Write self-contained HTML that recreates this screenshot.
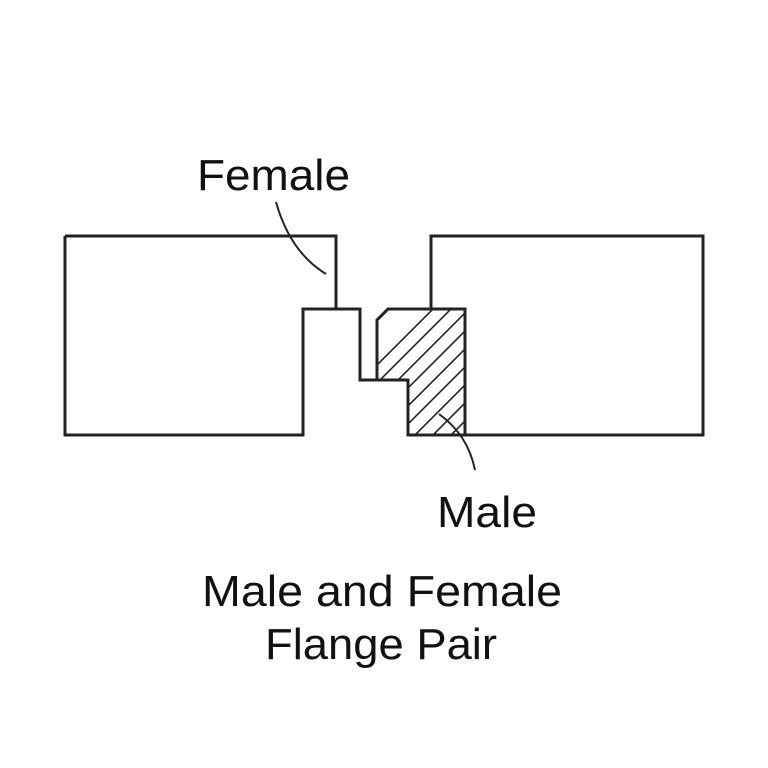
<!DOCTYPE html>
<html><head><meta charset="utf-8"><style>
html,body{margin:0;padding:0;background:#fff}
svg{display:block}
text{font-family:"Liberation Sans",sans-serif;fill:#111}
</style></head><body>
<svg width="768" height="768" viewBox="0 0 768 768" xmlns="http://www.w3.org/2000/svg">
<defs>
<clipPath id="mc"><polygon points="377,380 377,320 388,309 465,309 465,435 408,435 408,380"/></clipPath>
</defs>
<g fill="none" stroke="#222" stroke-width="3">
<polyline points="65,236 336,236 336,309"/>
<polyline points="65,236 65,435 303,435 303,309 360,309 360,380 377,380"/>
<g clip-path="url(#mc)" stroke-width="1.6">
<line x1="300" y1="460" x2="480" y2="280"/>
<line x1="318" y1="460" x2="498" y2="280"/>
<line x1="336" y1="460" x2="516" y2="280"/>
<line x1="354" y1="460" x2="534" y2="280"/>
<line x1="372" y1="460" x2="552" y2="280"/>
<line x1="390" y1="460" x2="570" y2="280"/>
<line x1="408" y1="460" x2="588" y2="280"/>
<line x1="426" y1="460" x2="606" y2="280"/>
<line x1="444" y1="460" x2="624" y2="280"/>
<line x1="462" y1="460" x2="642" y2="280"/>
<line x1="282" y1="460" x2="462" y2="280"/>
</g>
<polygon points="377,380 377,320 388,309 465,309 465,435 408,435 408,380"/>
<polyline points="431,309 431,236 703,236 703,435 465,435"/>
<path d="M276,202 Q290,252 326,274" stroke-width="2"/>
<path d="M439,414 Q468,435 475,470" stroke-width="2"/>
</g>
<text x="197" y="190" font-size="44" textLength="153" lengthAdjust="spacingAndGlyphs">Female</text>
<text x="437" y="527" font-size="44" textLength="100" lengthAdjust="spacingAndGlyphs">Male</text>
<text x="202" y="606" font-size="44" textLength="360" lengthAdjust="spacingAndGlyphs">Male and Female</text>
<text x="265" y="659" font-size="44" textLength="232" lengthAdjust="spacingAndGlyphs">Flange Pair</text>
</svg>
</body></html>
